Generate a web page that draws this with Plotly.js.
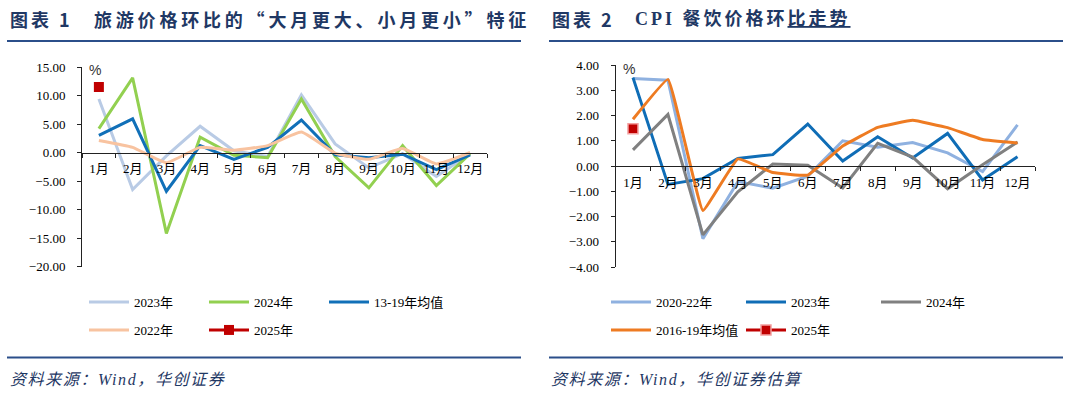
<!DOCTYPE html>
<html>
<head>
<meta charset="utf-8">
<script src="https://cdn.plot.ly/plotly-3.0.1.min.js"></script>
<style>
html, body { margin: 0; padding: 0; background: #fff; }
#chart { width: 1080px; height: 396px; }
.annotation[data-index="0"] text, .annotation[data-index="2"] text { letter-spacing: 3px; }
.annotation[data-index="1"] text { letter-spacing: 3.8px; }
.annotation[data-index="3"] text { letter-spacing: 3px; }
.annotation[data-index="6"] text, .annotation[data-index="7"] text { letter-spacing: 1.6px; }
</style>
</head>
<body>
<div id="chart"></div>
<script>
// ---------- data ----------
const months = ['1月','2月','3月','4月','5月','6月','7月','8月','9月','10月','11月','12月'];

// 图表 1: 旅游价格环比 (%)
const tour2023 = [9.4, -6.5, -0.6, 4.6, 0.3, -0.7, 10.1, 1.5, -2.7, -0.2, -4.2, -0.2];
const tour2024 = [4.2, 13.1, -14.2, 2.7, -0.5, -0.9, 9.4, -0.7, -6.2, 1.2, -5.8, -0.2];
const tourAvg1319 = [3.0, 5.9, -6.8, 1.2, -1.2, 0.9, 5.7, -0.4, -0.9, -0.3, -3.0, -0.4];
const tour2022 = [2.1, 0.9, -1.8, 0.9, 0.4, 1.2, 3.6, -0.1, -1.2, 0.7, -2.0, 0.0];
const tour2025 = [11.5];
const tourNames = ['2023年', '2024年', '13-19年均值', '2022年', '2025年'];

// 图表 2: CPI 餐饮价格环比 (%)
const food2020_22 = [3.47, 3.40, -2.88, -0.62, -0.88, -0.40, 1.00, 0.74, 0.93, 0.52, -0.22, 1.63];
const food2023 = [3.50, -0.73, -0.50, 0.30, 0.45, 1.66, 0.20, 1.16, 0.32, 1.29, -0.55, 0.37];
const food2024 = [0.64, 2.04, -2.73, -1.02, 0.08, 0.03, -0.87, 0.90, 0.35, -0.90, 0.05, 0.95];
const foodAvg1619 = [1.85, 3.43, -1.76, 0.28, -0.26, -0.36, 0.79, 1.53, 1.81, 1.52, 1.05, 0.91];
const food2025 = [1.48];
const foodNames = ['2020-22年', '2023年', '2024年', '2016-19年均值', '2025年'];

const yTicks1 = [-20, -15, -10, -5, 0, 5, 10, 15];
const yTicks2 = [-4, -3, -2, -1, 0, 1, 2, 3, 4];

// ---------- layout helpers ----------
const W = 1080, H = 396;
const px = x => x / W;
const py = y => 1 - y / H;

const serif = 'Liberation Serif, Times New Roman, Noto Sans CJK SC, serif';
const navy = '#1f3864';

function ln(color, width, name, legend, shape, smoothing) {
  return {
    type: 'scatter', mode: 'lines', name: name, legend: legend,
    line: { color: color, width: width, shape: shape || 'linear', smoothing: smoothing || 0.3 }
  };
}
function put(tr, x, y, xa, ya) { tr.x = x; tr.y = y; tr.xaxis = xa; tr.yaxis = ya; return tr; }

const t = [];
t.push(put(ln('#b9cbe5', 3, tourNames[0], 'legend'), months, tour2023, 'x', 'y'));
t.push(put(ln('#92d050', 3, tourNames[1], 'legend'), months, tour2024, 'x', 'y'));
t.push(put(ln('#1170b8', 3, tourNames[2], 'legend'), months, tourAvg1319, 'x', 'y'));
t.push(put(ln('#f8c3a0', 3, tourNames[3], 'legend2', 'spline', 0.4), months, tour2022, 'x', 'y'));
t.push({
  type: 'scatter', mode: 'lines+markers', name: tourNames[4], legend: 'legend2',
  x: months.slice(0, tour2025.length), y: tour2025, xaxis: 'x', yaxis: 'y',
  line: { color: '#c00000', width: 3 },
  marker: { symbol: 'square', size: 10, color: '#c00000', line: { color: '#c00000', width: 0 } }
});

t.push(put(ln('#8fb1e0', 3, foodNames[0], 'legend3'), months, food2020_22, 'x2', 'y2'));
t.push(put(ln('#0f6db6', 3, foodNames[1], 'legend3'), months, food2023, 'x2', 'y2'));
t.push(put(ln('#808080', 3, foodNames[2], 'legend3'), months, food2024, 'x2', 'y2'));
t.push(put(ln('#ee7b22', 3, foodNames[3], 'legend4', 'spline', 0.25), months, foodAvg1619, 'x2', 'y2'));
t.push({
  type: 'scatter', mode: 'lines+markers', name: foodNames[4], legend: 'legend4',
  x: months.slice(0, food2025.length), y: food2025, xaxis: 'x2', yaxis: 'y2',
  line: { color: '#c00000', width: 3 },
  marker: { symbol: 'square', size: 10, color: '#c00000', line: { color: '#f3a0a0', width: 1.5 } }
});

// plot areas (pixels)
const L = { x0: 82, x1: 487, yTop: 67, yBot: 266.5, min: -20, max: 15 };
const R = { x0: 615.5, x1: 1035, yTop: 65, yBot: 267, min: -4, max: 4 };
function zeroPos(P) {
  const d0 = py(P.yBot), d1 = py(P.yTop);
  return d0 + (0 - P.min) / (P.max - P.min) * (d1 - d0);
}

const tickFont = { family: serif, size: 13, color: '#000' };
function xAx(P) {
  return {
    type: 'category', domain: [px(P.x0), px(P.x1)], anchor: 'free', position: zeroPos(P),
    range: [-0.5, months.length - 0.5], showline: true, linecolor: '#222', linewidth: 1,
    ticks: 'outside', tickson: 'boundaries', ticklen: 4, tickcolor: '#222', tickangle: 0,
    showgrid: false, zeroline: false, tickfont: tickFont, ticklabelstandoff: 4,
    fixedrange: true
  };
}
function yAx(P, ticks, xName) {
  return {
    domain: [py(P.yBot), py(P.yTop)], anchor: xName, range: [P.min, P.max],
    tickvals: ticks, tickformat: '.2f', showline: true, linecolor: '#222', linewidth: 1,
    ticks: 'outside', ticklen: 4, tickcolor: '#222', showgrid: false, zeroline: false,
    tickfont: tickFont, ticklabelstandoff: 9, fixedrange: true
  };
}

function leg(x, y, w) {
  return {
    orientation: 'h', x: px(x), xanchor: 'left', y: py(y), yanchor: 'middle',
    font: { family: serif, size: 13, color: '#000' }, bgcolor: 'rgba(0,0,0,0)',
    entrywidth: w, entrywidthmode: 'pixels', itemwidth: 40, traceorder: 'normal',
    borderwidth: 0
  };
}

function ann(text, x, y, font, xanchor) {
  return { text: text, xref: 'paper', yref: 'paper', x: px(x), y: py(y),
    xanchor: xanchor || 'left', yanchor: 'middle', align: 'left', showarrow: false, font: font };
}
const titleFont = { family: 'Noto Sans CJK SC, sans-serif', size: 18, color: navy, weight: 700 };
const titleFont2 = { family: 'Liberation Serif, Noto Sans CJK SC, serif', size: 18, color: navy, weight: 700 };
const srcFont = { family: serif, size: 16, color: navy, style: 'italic' };
const pctFont = { family: 'Liberation Sans, Arial, sans-serif', size: 14, color: '#333' };

const annotations = [
  ann('图表 1', 8, 18.5, titleFont),
  ann('旅游价格环比的“大月更大、小月更小”特征', 92, 18.5, titleFont),
  ann('图表 2', 550, 18.5, titleFont),
  ann('CPI 餐饮价格环<u>比走势</u>', 633, 18.5, titleFont2),
  ann('%', 95, 70, pctFont, 'center'),
  ann('%', 629, 69, pctFont, 'center'),
  ann('资料来源：Wind，华创证券', 8, 379, srcFont),
  ann('资料来源：Wind，华创证券估算', 549, 379, srcFont)
];

function hline(x0, x1, y) {
  return { type: 'line', xref: 'paper', yref: 'paper', x0: px(x0), x1: px(x1), y0: py(y), y1: py(y),
    line: { color: '#2b4f8a', width: 2 } };
}

const layout = {
  width: W, height: H, margin: { l: 0, r: 0, t: 0, b: 0 },
  paper_bgcolor: '#fff', plot_bgcolor: 'rgba(0,0,0,0)',
  showlegend: true,
  xaxis: xAx(L), yaxis: yAx(L, yTicks1, 'x'),
  xaxis2: xAx(R), yaxis2: yAx(R, yTicks2, 'x2'),
  legend: leg(84, 302, 65),
  legend2: leg(84, 330, 65),
  legend3: leg(606, 302, 80),
  legend4: leg(606, 330, 80),
  annotations: annotations,
  shapes: [hline(7, 521, 41), hline(549, 1063, 41), hline(7, 521, 357.5), hline(549, 1063, 357.5)]
};

Plotly.newPlot('chart', t, layout, { displayModeBar: false, staticPlot: true });
</script>
</body>
</html>
